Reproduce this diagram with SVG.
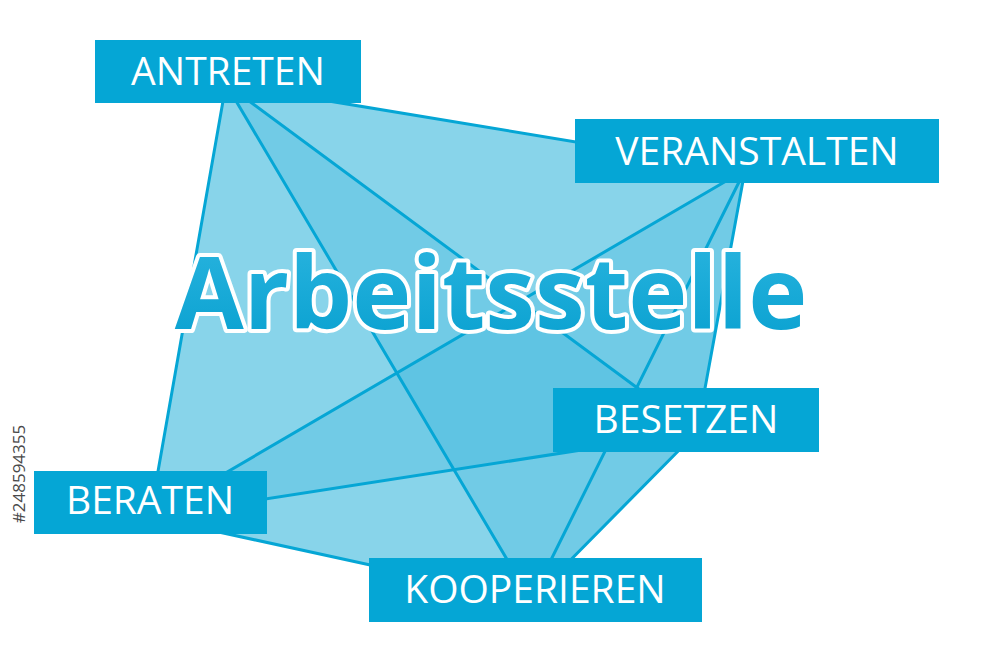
<svg xmlns="http://www.w3.org/2000/svg" width="1000" height="667" viewBox="0 0 1000 667">
<defs>
<linearGradient id="tg" x1="0" y1="0" x2="0" y2="1">
<stop offset="0" stop-color="#2db6e0"/>
<stop offset="1" stop-color="#069fcf"/>
</linearGradient>
<style>
.box{fill:#05a6d5}
.lbl{font-family:"Open Sans","Liberation Sans",sans-serif;font-size:39px;fill:#ffffff;text-anchor:middle}
.edge{stroke:#05a6d5;stroke-width:3;fill:none;stroke-linecap:round}
.ov{fill:#2ab0da;fill-opacity:0.25}
</style>
</defs>
<rect width="1000" height="667" fill="#ffffff"/>
<g id="shape">
<polygon points="226,84 745,170 697,432 531,600 150,517" fill="#88d4ea"/>
<polygon class="ov" points="226,84 531,600 697,432"/>
<polygon class="ov" points="150,517 745,170 697,432"/>
</g>
<g id="connectors">
<line class="edge" x1="226" y1="84" x2="745" y2="170"/>
<line class="edge" x1="226" y1="84" x2="697" y2="432"/>
<line class="edge" x1="226" y1="84" x2="150" y2="517"/>
<line class="edge" x1="226" y1="84" x2="531" y2="600"/>
<line class="edge" x1="745" y1="170" x2="697" y2="432"/>
<line class="edge" x1="745" y1="170" x2="150" y2="517"/>
<line class="edge" x1="745" y1="170" x2="531" y2="600"/>
<line class="edge" x1="697" y1="432" x2="150" y2="517"/>
<line class="edge" x1="697" y1="432" x2="531" y2="600"/>
<line class="edge" x1="150" y1="517" x2="531" y2="600"/>
</g>
<g id="title">
<text x="491" y="329" font-family="'Open Sans','Liberation Sans',sans-serif" font-weight="700" font-size="100" text-anchor="middle" fill="url(#tg)" stroke="#ffffff" stroke-width="8" stroke-linejoin="round" paint-order="stroke">Arbeitsstelle</text>
</g>
<g id="antreten">
<rect class="box" x="95" y="40" width="266" height="63"/>
<text class="lbl" x="228" y="85">ANTRETEN</text>
</g>
<g id="veranstalten">
<rect class="box" x="575" y="119" width="364" height="64"/>
<text class="lbl" x="757" y="165">VERANSTALTEN</text>
</g>
<g id="besetzen">
<rect class="box" x="553" y="388" width="266" height="64"/>
<text class="lbl" x="686" y="433">BESETZEN</text>
</g>
<g id="beraten">
<rect class="box" x="34" y="471" width="233" height="63"/>
<text class="lbl" x="150" y="514">BERATEN</text>
</g>
<g id="kooperieren">
<rect class="box" x="369" y="558" width="333" height="64"/>
<text class="lbl" x="535" y="603">KOOPERIEREN</text>
</g>
<g id="stockid">
<text x="25" y="474" transform="rotate(-90 25 474)" font-family="'Open Sans','Liberation Sans',sans-serif" font-size="17" fill="#4a4a4a" text-anchor="middle">#248594355</text>
</g>
</svg>
